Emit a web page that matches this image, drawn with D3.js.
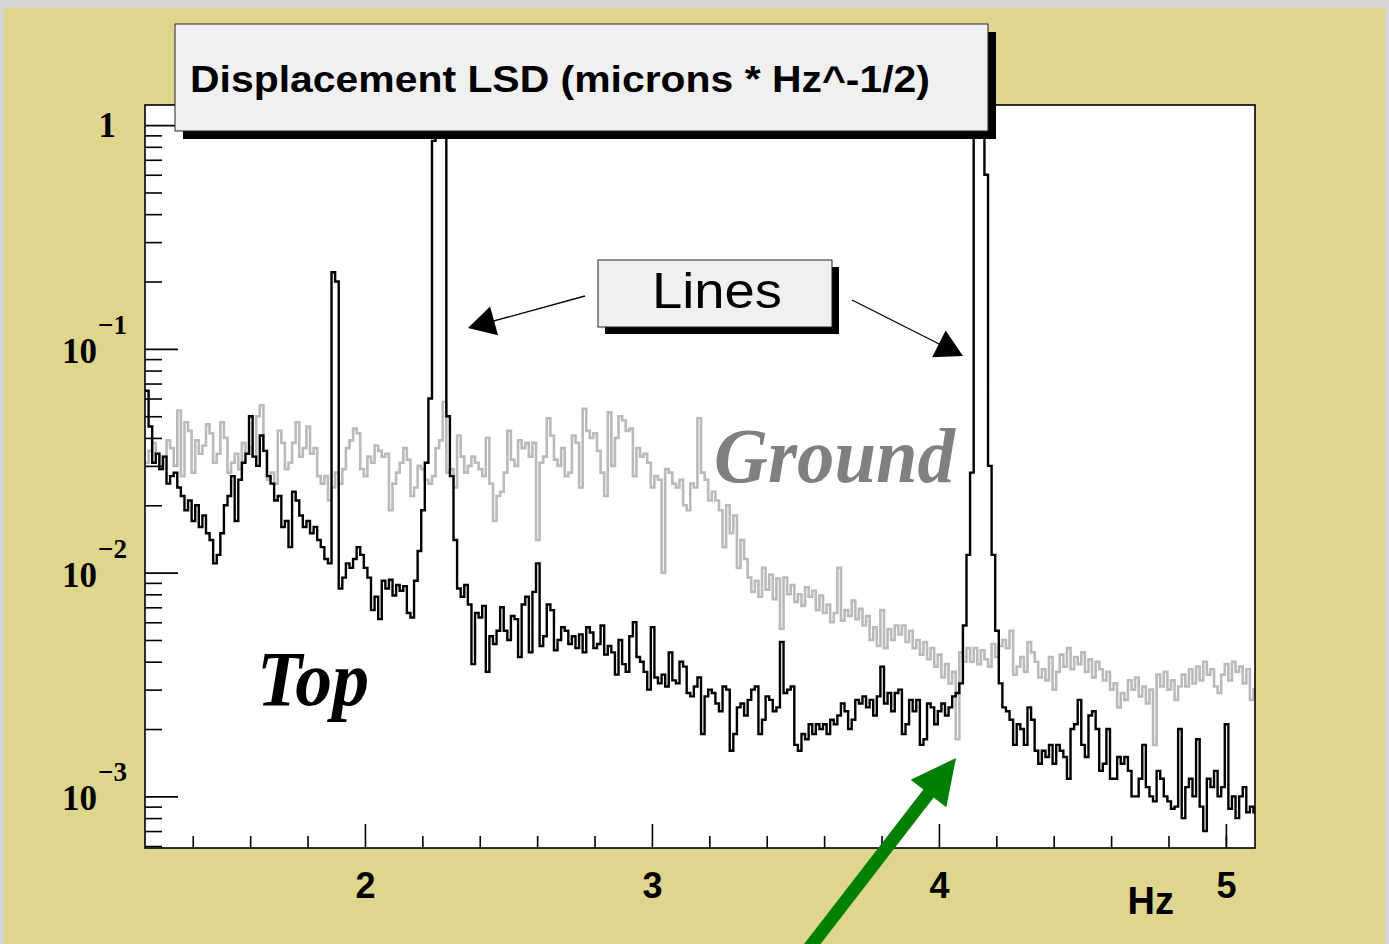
<!DOCTYPE html>
<html>
<head>
<meta charset="utf-8">
<script src="https://cdn.jsdelivr.net/npm/d3@7/dist/d3.min.js"></script>
<style>
  html, body { margin: 0; padding: 0; background: #ddd68c; }
  svg { display: block; }
</style>
</head>
<body>
<svg id="chart" width="1389" height="944"></svg>
<script>
// Spectrum binning (Hz)
const binStart = 1.2336;
const binWidth = 0.0125;

// Displacement LSD of the top stage, one value per frequency bin
const topLSD = [
  0.065, 0.045, 0.031, 0.034, 0.029, 0.033, 0.025, 0.027, 0.028, 0.024,
  0.022, 0.019, 0.021, 0.017, 0.020, 0.016, 0.018, 0.015, 0.014, 0.011,
  0.012, 0.015, 0.020, 0.022, 0.027, 0.017, 0.026, 0.031, 0.034, 0.050,
  0.033, 0.030, 0.041, 0.035, 0.027, 0.025, 0.021, 0.022, 0.016, 0.017,
  0.013, 0.023, 0.021, 0.018, 0.016, 0.017, 0.015, 0.016, 0.014, 0.013,
  0.0115, 0.011, 0.22, 0.20, 0.0085, 0.0095, 0.011, 0.0105, 0.0115, 0.013,
  0.012, 0.0105, 0.0095, 0.0068, 0.0078, 0.0062, 0.0092, 0.0085, 0.0093, 0.0079,
  0.0088, 0.0083, 0.0087, 0.0066, 0.0063, 0.0092, 0.0125, 0.019, 0.031, 0.060,
  0.85, 8.0, 4.0, 1.6, 0.050, 0.027, 0.014, 0.0085, 0.0078, 0.0088,
  0.0072, 0.0039, 0.0066, 0.0063, 0.0071, 0.0036, 0.0052, 0.0048, 0.0055, 0.0070,
  0.0055, 0.0050, 0.0064, 0.0062, 0.0042, 0.0072, 0.0078, 0.0044, 0.0082, 0.011,
  0.0047, 0.0052, 0.0072, 0.0068, 0.0045, 0.0050, 0.0057, 0.0055, 0.0048, 0.0052,
  0.0046, 0.0053, 0.0044, 0.0057, 0.0054, 0.0046, 0.0048, 0.0058, 0.0043, 0.0047,
  0.0044, 0.0035, 0.0050, 0.0039, 0.0036, 0.0052, 0.0060, 0.0042, 0.0040, 0.0036,
  0.0030, 0.0057, 0.0034, 0.0032, 0.0035, 0.0031, 0.0044, 0.0033, 0.0032, 0.0040,
  0.0038, 0.0029, 0.0028, 0.0031, 0.0034, 0.0019, 0.0028, 0.0030, 0.0029, 0.0026,
  0.0024, 0.0031, 0.0030, 0.0016, 0.0019, 0.0025, 0.0026, 0.0023, 0.0027, 0.0030,
  0.0031, 0.0019, 0.0022, 0.0028, 0.0027, 0.0024, 0.0025, 0.0049, 0.0029, 0.0030,
  0.0031, 0.0017, 0.0016, 0.0019, 0.0018, 0.0021, 0.0019, 0.0021, 0.0020, 0.0021,
  0.0019, 0.0022, 0.0021, 0.0023, 0.0026, 0.0024, 0.0020, 0.0022, 0.0027, 0.0026,
  0.0028, 0.0025, 0.0027, 0.0023, 0.0028, 0.0038, 0.0026, 0.0029, 0.0024, 0.0029,
  0.0030, 0.0019, 0.0021, 0.0027, 0.0024, 0.0027, 0.0017, 0.0018, 0.0026, 0.0025,
  0.0021, 0.0024, 0.0026, 0.0023, 0.0025, 0.0028, 0.0029, 0.0032, 0.0058, 0.012,
  0.028, 1.4, 6.0, 4.0, 0.60, 0.030, 0.012, 0.0055, 0.0032, 0.0025,
  0.0024, 0.0022, 0.0017, 0.0021, 0.0020, 0.0017, 0.0025, 0.0022, 0.0016, 0.0014,
  0.0016, 0.0015, 0.0017, 0.0014, 0.0017, 0.0016, 0.0015, 0.0012, 0.0020, 0.0021,
  0.0027, 0.0017, 0.0015, 0.0023, 0.0024, 0.0020, 0.0013, 0.0014, 0.0020, 0.0012,
  0.0012, 0.0015, 0.0014, 0.0015, 0.0013, 0.0010, 0.0010, 0.0012, 0.0017, 0.0011,
  0.0010, 0.00095, 0.0013, 0.0012, 0.0010, 0.00095, 0.00088, 0.0009, 0.0020, 0.0008,
  0.0011, 0.0012, 0.0010, 0.0018, 0.0009, 0.0007, 0.0012, 0.0011, 0.0013, 0.0010,
  0.0011, 0.0021, 0.00088, 0.0010, 0.0008, 0.0010, 0.0011, 0.00085, 0.0009, 0.00085
];

// Displacement LSD of the ground, same bins
const groundLSD = [
  0.031, 0.035, 0.038, 0.034, 0.029, 0.033, 0.039, 0.036, 0.030, 0.053,
  0.027, 0.047, 0.043, 0.028, 0.039, 0.034, 0.037, 0.046, 0.042, 0.031,
  0.034, 0.047, 0.040, 0.028, 0.031, 0.034, 0.029, 0.038, 0.034, 0.036,
  0.033, 0.050, 0.056, 0.035, 0.026, 0.028, 0.025, 0.043, 0.038, 0.029,
  0.031, 0.038, 0.047, 0.033, 0.036, 0.045, 0.034, 0.036, 0.027, 0.025,
  0.027, 0.021, 0.024, 0.028, 0.025, 0.029, 0.036, 0.039, 0.044, 0.042,
  0.029, 0.027, 0.033, 0.031, 0.037, 0.035, 0.033, 0.034, 0.019, 0.025,
  0.028, 0.031, 0.036, 0.032, 0.022, 0.024, 0.030, 0.029, 0.026, 0.025,
  0.027, 0.036, 0.039, 0.058, 0.028, 0.029, 0.024, 0.041, 0.033, 0.028,
  0.030, 0.033, 0.031, 0.029, 0.027, 0.040, 0.025, 0.017, 0.022, 0.023,
  0.028, 0.043, 0.032, 0.030, 0.039, 0.036, 0.038, 0.033, 0.038, 0.014,
  0.031, 0.033, 0.049, 0.041, 0.032, 0.030, 0.036, 0.027, 0.028, 0.041,
  0.038, 0.024, 0.054, 0.043, 0.040, 0.042, 0.035, 0.028, 0.022, 0.052,
  0.030, 0.040, 0.050, 0.048, 0.043, 0.044, 0.027, 0.036, 0.033, 0.034,
  0.031, 0.024, 0.027, 0.026, 0.010, 0.029, 0.028, 0.025, 0.024, 0.026,
  0.020, 0.019, 0.025, 0.024, 0.049, 0.028, 0.026, 0.021, 0.023, 0.021,
  0.019, 0.013, 0.020, 0.015, 0.018, 0.0105, 0.014, 0.0115, 0.0095, 0.0082,
  0.0092, 0.0078, 0.0105, 0.0084, 0.0098, 0.0076, 0.0094, 0.0056, 0.0095, 0.0080,
  0.0088, 0.0074, 0.0080, 0.0071, 0.0086, 0.0078, 0.0083, 0.0068, 0.0079, 0.0066,
  0.0072, 0.0060, 0.0066, 0.0105, 0.0061, 0.0068, 0.0064, 0.0075, 0.0062, 0.0069,
  0.0058, 0.0064, 0.0050, 0.0057, 0.0047, 0.0068, 0.0046, 0.0056, 0.0050, 0.0058,
  0.0053, 0.0058, 0.0049, 0.0055, 0.0046, 0.0050, 0.0043, 0.0049, 0.0041, 0.0046,
  0.0038, 0.0043, 0.0034, 0.0039, 0.0032, 0.0036, 0.0018, 0.0044, 0.0040, 0.0046,
  0.0040, 0.0046, 0.0039, 0.0045, 0.0041, 0.0038, 0.0048, 0.0042, 0.0047, 0.0050,
  0.0046, 0.0055, 0.0035, 0.0038, 0.0042, 0.0036, 0.0049, 0.0044, 0.0040, 0.0034,
  0.0037, 0.0033, 0.0042, 0.0030, 0.0036, 0.0043, 0.0038, 0.0046, 0.0037, 0.0042,
  0.0039, 0.0044, 0.0036, 0.0041, 0.0034, 0.0040, 0.0037, 0.0033, 0.0036, 0.0030,
  0.0032, 0.0025, 0.0029, 0.0027, 0.0033, 0.0030, 0.0034, 0.0028, 0.0031, 0.0026,
  0.0030, 0.0017, 0.0035, 0.0031, 0.0036, 0.0030, 0.0033, 0.0027, 0.0031, 0.0035,
  0.0031, 0.0037, 0.0032, 0.0038, 0.0033, 0.0040, 0.0035, 0.0037, 0.0031, 0.0029,
  0.0035, 0.0039, 0.0033, 0.0040, 0.0036, 0.0038, 0.0032, 0.0037, 0.0027, 0.0030
];

// Axis ticks
const xMajorTicks = [2, 3, 4, 5];
const xMinorTicks = [1.4, 1.6, 1.8, 2.2, 2.4, 2.6, 2.8, 3.2, 3.4, 3.6, 3.8, 4.2, 4.4, 4.6, 4.8, 5.0];
const yDecades = [1, 0.1, 0.01, 0.001];
const yExponents = ["0", "\u22121", "\u22122", "\u22123"];
const yMinorMultipliers = [2, 3, 4, 5, 6, 7, 8, 9];

// Text
const titleText = "Displacement LSD (microns * Hz^-1/2)";
const xAxisTitle = "Hz";
const linesLabel = "Lines";
const groundLabel = "Ground";
const topLabel = "Top";

const W = 1389, H = 944;
const frame = { left: 145, right: 1255, top: 105, bottom: 848 };

const svg = d3.select("#chart");

// Canvas background with light border on top and sides
svg.append("rect").attr("x", 0).attr("y", 0).attr("width", W).attr("height", H).attr("fill", "#d6d6d6");
svg.append("rect").attr("x", 4).attr("y", 8).attr("width", W - 8).attr("height", H - 8).attr("fill", "#ddd68c");

const x = d3.scaleLinear().domain([1.2336, 5.1014]).range([frame.left, frame.right]);
const y = d3.scaleLog().domain([5.88e-4, 1.23]).range([frame.bottom, frame.top]);

// Plot frame
svg.append("rect")
  .attr("x", frame.left).attr("y", frame.top)
  .attr("width", frame.right - frame.left).attr("height", frame.bottom - frame.top)
  .attr("fill", "#ffffff");

svg.append("defs").append("clipPath").attr("id", "plotClip")
  .append("rect")
  .attr("x", frame.left).attr("y", frame.top)
  .attr("width", frame.right - frame.left).attr("height", frame.bottom - frame.top);

// Histogram outlines (step curves over bin edges)
function histPoints(values) {
  const pts = values.map((v, i) => [binStart + i * binWidth, v]);
  pts.push([binStart + values.length * binWidth, values[values.length - 1]]);
  return pts;
}
const stepLine = d3.line()
  .x(d => x(d[0]))
  .y(d => y(d[1]))
  .curve(d3.curveStepAfter);

const plot = svg.append("g").attr("clip-path", "url(#plotClip)");
plot.append("path")
  .attr("d", stepLine(histPoints(groundLSD)))
  .attr("fill", "none").attr("stroke", "#bababa").attr("stroke-width", 2.6)
  .attr("stroke-linejoin", "miter");
plot.append("path")
  .attr("d", stepLine(histPoints(topLSD)))
  .attr("fill", "none").attr("stroke", "#000000").attr("stroke-width", 2.4)
  .attr("stroke-linejoin", "miter");

// X axis: ticks point into the frame
const xAxisMajor = d3.axisBottom(x).tickValues(xMajorTicks)
  .tickSizeInner(-24).tickSizeOuter(0).tickPadding(24).tickFormat(d3.format("d"));
const xAxisMinor = d3.axisBottom(x).tickValues(xMinorTicks)
  .tickSizeInner(-12).tickSizeOuter(0).tickFormat("");

const gxMinor = svg.append("g").attr("transform", `translate(0,${frame.bottom})`).call(xAxisMinor);
const gxMajor = svg.append("g").attr("transform", `translate(0,${frame.bottom})`).call(xAxisMajor);
[gxMinor, gxMajor].forEach(g => {
  g.select(".domain").remove();
  g.selectAll(".tick line").attr("stroke", "#000").attr("stroke-width", 1.6);
});
gxMajor.selectAll(".tick text")
  .attr("fill", "#000")
  .attr("font-family", "'Liberation Sans', Arial, sans-serif")
  .attr("font-weight", "bold")
  .attr("font-size", 36);

// Y axis (log): decade ticks long, 2..9 ticks short
const yMinorTicks = [];
[1, 0.1, 0.01, 0.001, 0.0001].forEach(d => {
  yMinorMultipliers.forEach(m => {
    const v = d * m;
    if (v >= y.domain()[0] && v <= y.domain()[1]) yMinorTicks.push(v);
  });
});
const yAxisMajor = d3.axisLeft(y).tickValues(yDecades).tickSizeInner(-33).tickSizeOuter(0).tickFormat("");
const yAxisMinor = d3.axisLeft(y).tickValues(yMinorTicks).tickSizeInner(-17).tickSizeOuter(0).tickFormat("");
const gyMinor = svg.append("g").attr("transform", `translate(${frame.left},0)`).call(yAxisMinor);
const gyMajor = svg.append("g").attr("transform", `translate(${frame.left},0)`).call(yAxisMajor);
[gyMinor, gyMajor].forEach(g => {
  g.select(".domain").remove();
  g.selectAll(".tick line").attr("stroke", "#000").attr("stroke-width", 1.6);
});

// Decade labels: "1" and 10 with superscript exponent
const serif = "'Liberation Serif', 'Times New Roman', serif";
const yLab = svg.append("g").attr("fill", "#000").attr("font-family", serif).attr("font-weight", "bold");
yDecades.forEach((d, i) => {
  const yy = y(d);
  if (i === 0) {
    yLab.append("text").attr("x", 116).attr("y", yy + 12).attr("text-anchor", "end")
      .attr("font-size", 35).text("1");
  } else {
    yLab.append("text").attr("x", 97).attr("y", yy + 14).attr("text-anchor", "end")
      .attr("font-size", 35).text("10");
    yLab.append("text").attr("x", 98).attr("y", yy - 15).attr("text-anchor", "start")
      .attr("font-size", 27).text(yExponents[i]);
  }
});

// Frame border
svg.append("rect")
  .attr("x", frame.left).attr("y", frame.top)
  .attr("width", frame.right - frame.left).attr("height", frame.bottom - frame.top)
  .attr("fill", "none").attr("stroke", "#000").attr("stroke-width", 1.6);

// Axis title
svg.append("text")
  .attr("x", 1174).attr("y", 914).attr("text-anchor", "end")
  .attr("font-family", "'Liberation Sans', Arial, sans-serif").attr("font-weight", "bold")
  .attr("font-size", 38).attr("fill", "#000").text(xAxisTitle);

// Title box with drop shadow
svg.append("rect").attr("x", 183).attr("y", 32).attr("width", 813).attr("height", 107).attr("fill", "#000");
svg.append("rect").attr("x", 175).attr("y", 24).attr("width", 813).attr("height", 107)
  .attr("fill", "#f0f0f0").attr("stroke", "#222").attr("stroke-width", 1);
svg.append("text")
  .attr("x", 190).attr("y", 92)
  .attr("font-family", "'Liberation Sans', Arial, sans-serif").attr("font-weight", "bold")
  .attr("font-size", 37).attr("fill", "#000")
  .attr("textLength", 740).attr("lengthAdjust", "spacingAndGlyphs")
  .text(titleText);

// "Lines" annotation box
svg.append("rect").attr("x", 605).attr("y", 267).attr("width", 234).attr("height", 67).attr("fill", "#000");
svg.append("rect").attr("x", 598).attr("y", 260).attr("width", 234).attr("height", 67)
  .attr("fill", "#f0f0f0").attr("stroke", "#222").attr("stroke-width", 1);
svg.append("text")
  .attr("x", 652).attr("y", 308)
  .attr("font-family", "'Liberation Sans', Arial, sans-serif")
  .attr("font-size", 50).attr("fill", "#000")
  .attr("textLength", 130).attr("lengthAdjust", "spacingAndGlyphs")
  .text(linesLabel);

// Arrows from the "Lines" box to the two resonance peaks
function arrow(g, x0, y0, x1, y1, headLen, headHalf, color, width) {
  const dx = x1 - x0, dy = y1 - y0, L = Math.hypot(dx, dy);
  const ux = dx / L, uy = dy / L;
  const bx = x1 - ux * headLen, by = y1 - uy * headLen;
  g.append("line").attr("x1", x0).attr("y1", y0).attr("x2", bx + ux * 2).attr("y2", by + uy * 2)
    .attr("stroke", color).attr("stroke-width", width);
  g.append("polygon")
    .attr("points", [[x1, y1], [bx - uy * headHalf, by + ux * headHalf], [bx + uy * headHalf, by - ux * headHalf]]
      .map(p => p.join(",")).join(" "))
    .attr("fill", color);
}
const ann = svg.append("g");
arrow(ann, 585, 296, 468, 328, 27, 15, "#000", 1.3);
arrow(ann, 852, 300, 963, 356, 27, 15, "#000", 1.3);

// Green arrow pointing at the crossing near 4 Hz
arrow(ann, 804.6, 954, 956, 758, 45, 22.5, "#008000", 13);

// Curve labels
svg.append("text")
  .attr("x", 714).attr("y", 482)
  .attr("font-family", serif).attr("font-weight", "bold").attr("font-style", "italic")
  .attr("font-size", 78).attr("fill", "#808080")
  .attr("textLength", 241).attr("lengthAdjust", "spacingAndGlyphs")
  .text(groundLabel);
svg.append("text")
  .attr("x", 257).attr("y", 705)
  .attr("font-family", serif).attr("font-weight", "bold").attr("font-style", "italic")
  .attr("font-size", 78).attr("fill", "#000")
  .attr("textLength", 112).attr("lengthAdjust", "spacingAndGlyphs")
  .text(topLabel);
</script>
</body>
</html>
